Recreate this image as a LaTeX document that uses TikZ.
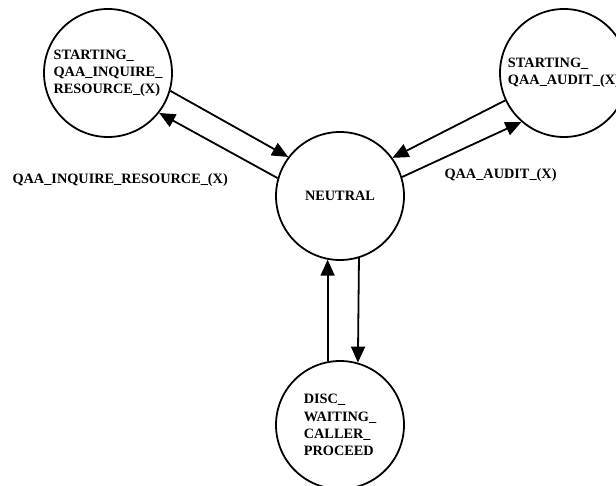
\documentclass[tikz,border=0pt]{standalone}
\usepackage{fontspec}
\setmainfont{Liberation Serif}
\usetikzlibrary{arrows.meta}

\begin{document}
\begin{tikzpicture}[
    x=1pt, y=-1pt,
    state/.style={circle, draw, line width=1.8pt, minimum size=128pt, inner sep=0pt, align=left},
    every edge/.style={draw, line width=1.8pt, -{Triangle[length=16pt, width=14pt]}},
    font=\fontsize{14.3}{17.2}\selectfont\bfseries
]

% fixed frame, pixel coordinates
\path[use as bounding box] (0,0) rectangle (616,486);

\node[state] (INQ)   at (108,73)  {STARTING\_\\QAA\_INQUIRE\_\\RESOURCE\_(X)};
\node[state] (AUD)   at (564,73)  {STARTING\_\\QAA\_AUDIT\_(X)};
\node[state] (NEU)   at (340,196) {NEUTRAL};
\node[state] (DISC)  at (340,425) {DISC\_\\WAITING\_\\CALLER\_\\PROCEED};

\node[anchor=west] (INQlabel) at (9,180) {QAA\_INQUIRE\_RESOURCE\_(X)};
\node[anchor=west] (AUDlabel) at (441,175) {QAA\_AUDIT\_(X)};

\path (INQ.-16)  edge (NEU.143);
\path (NEU.164)  edge (INQ.-38);
\path (AUD.-155) edge (NEU.36);
\path (NEU.17)   edge (AUD.-131);
\path (NEU.-73)  edge (DISC.74);
\path (DISC.101) edge (NEU.-101);

\end{tikzpicture}
\end{document}
